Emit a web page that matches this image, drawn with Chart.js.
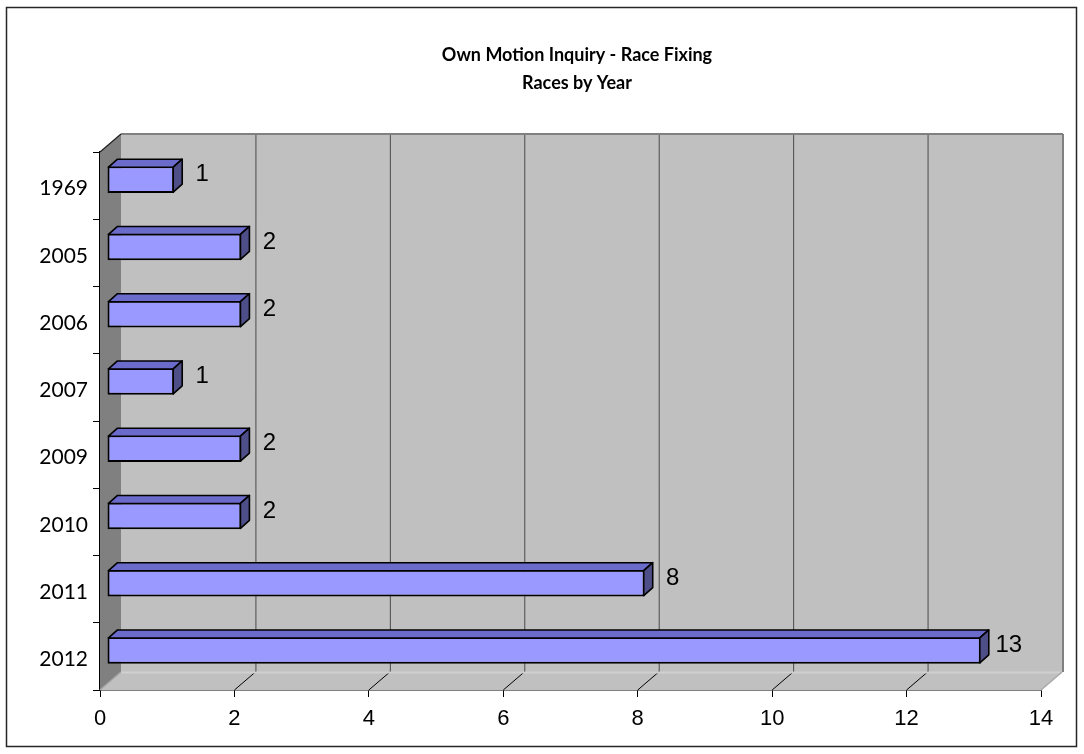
<!DOCTYPE html>
<html>
<head>
<meta charset="utf-8">
<script src="https://cdn.jsdelivr.net/npm/chart.js@4/dist/chart.umd.min.js"></script>
<style>
  html, body { margin: 0; padding: 0; background: #ffffff; }
  #wrap { width: 1084px; height: 754px; position: relative; }
</style>
</head>
<body>
<div id="wrap"><canvas id="c" width="1084" height="754"></canvas></div>
<script>
// Races flagged by the inquiry, grouped by year
const years = ['1969', '2005', '2006', '2007', '2009', '2010', '2011', '2012'];
const races = [1, 2, 2, 1, 2, 2, 8, 13];
const xMin = 0;
const xMax = 14;
const xStep = 2;
const titleLines = ['Own Motion Inquiry - Race Fixing', 'Races by Year'];

// Pseudo-3D geometry (pixels)
const WALL_DX = 21, WALL_DY = 18;   // depth of the plot box
const BAR_OX = 7, BAR_OY = -6;      // bar front face pushed back into the box
const BAR_DX = 9, BAR_DY = 8;       // bar thickness in depth

const BAR_FRONT = '#9999FF';
const BAR_TOP = '#6B6BCC';
const BAR_SIDE = '#4E4E88';

function poly(ctx, pts, fill, stroke, lw) {
  ctx.beginPath();
  ctx.moveTo(pts[0][0], pts[0][1]);
  for (let i = 1; i < pts.length; i++) ctx.lineTo(pts[i][0], pts[i][1]);
  ctx.closePath();
  if (fill) { ctx.fillStyle = fill; ctx.fill(); }
  if (stroke) { ctx.strokeStyle = stroke; ctx.lineWidth = lw || 1; ctx.stroke(); }
}

function line(ctx, x1, y1, x2, y2, color, lw) {
  ctx.beginPath();
  ctx.moveTo(x1, y1);
  ctx.lineTo(x2, y2);
  ctx.strokeStyle = color;
  ctx.lineWidth = lw || 1;
  ctx.stroke();
}

const scene3d = {
  id: 'scene3d',
  beforeDraw(chart) {
    const ctx = chart.ctx;
    ctx.save();
    ctx.fillStyle = '#ffffff';
    ctx.fillRect(0, 0, chart.width, chart.height);
    ctx.strokeStyle = '#262626';
    ctx.lineWidth = 1.5;
    ctx.strokeRect(6.5, 7.5, 1070, 739);
    ctx.fillStyle = '#000000';
    ctx.font = 'bold 18px Lato';
    ctx.textAlign = 'center';
    ctx.textBaseline = 'middle';
    ctx.fillText(titleLines[0], 577, 55);
    ctx.fillText(titleLines[1], 577, 83);
    ctx.restore();
  },
  beforeDatasetsDraw(chart) {
    const ctx = chart.ctx;
    const xs = chart.scales.x, ys = chart.scales.y;
    const L = xs.getPixelForValue(xMin), R = xs.getPixelForValue(xMax);
    const T = ys.top, B = ys.bottom;
    ctx.save();
    // back wall
    poly(ctx, [[L + WALL_DX, T - WALL_DY], [R + WALL_DX, T - WALL_DY],
               [R + WALL_DX, B - WALL_DY], [L + WALL_DX, B - WALL_DY]], '#C0C0C0');
    // floor
    poly(ctx, [[L, B], [R, B], [R + WALL_DX, B - WALL_DY], [L + WALL_DX, B - WALL_DY]], '#C0C0C0');
    // left wall
    poly(ctx, [[L, T], [L + WALL_DX, T - WALL_DY], [L + WALL_DX, B - WALL_DY], [L, B]], '#808080');
    // grid lines on the back wall and across the floor
    for (let v = xMin + xStep; v < xMax; v += xStep) {
      const px = xs.getPixelForValue(v);
      line(ctx, px + WALL_DX + 0.5, T - WALL_DY, px + WALL_DX + 0.5, B - WALL_DY, '#4A4A4A', 1);
      line(ctx, px + WALL_DX, B - WALL_DY, px, B, '#000000', 1);
    }
    // wall edges
    line(ctx, L + WALL_DX, B - WALL_DY + 0.5, R + WALL_DX, B - WALL_DY + 0.5, '#D0D0D0', 2);
    line(ctx, L, B, L + WALL_DX, B - WALL_DY, '#A8A8A8', 1.5);
    line(ctx, R, B, R + WALL_DX, B - WALL_DY, '#A8A8A8', 1.5);
    line(ctx, L + WALL_DX, T - WALL_DY, R + WALL_DX + 1, T - WALL_DY, '#808080', 2);
    line(ctx, R + WALL_DX + 1, T - WALL_DY, R + WALL_DX + 1, B - WALL_DY, '#808080', 2);
    line(ctx, L, T, L + WALL_DX, T - WALL_DY, '#202020', 1.2);
    ctx.restore();
  },
  beforeDatasetDraw(chart) {
    chart.ctx.save();
    chart.ctx.translate(BAR_OX, BAR_OY);
  },
  afterDatasetDraw(chart) {
    chart.ctx.restore();
  },
  afterDatasetsDraw(chart) {
    const ctx = chart.ctx;
    const meta = chart.getDatasetMeta(0);
    const values = chart.data.datasets[0].data;
    ctx.save();
    ctx.lineJoin = 'round';
    meta.data.forEach((bar, i) => {
      const p = bar.getProps(['x', 'y', 'base', 'height'], true);
      const left = p.base + BAR_OX, right = p.x + BAR_OX;
      const top = p.y - p.height / 2 + BAR_OY, bottom = p.y + p.height / 2 + BAR_OY;
      poly(ctx, [[left + 1, top + 1], [left + 1 + BAR_DX, top + 1 - BAR_DY],
                 [right - 1 + BAR_DX, top + 1 - BAR_DY], [right - 1, top + 1]], BAR_TOP, '#000000', 1.6);
      poly(ctx, [[right - 1, top + 1], [right - 1 + BAR_DX, top + 1 - BAR_DY],
                 [right - 1 + BAR_DX, bottom - 1 - BAR_DY], [right - 1, bottom - 1]], BAR_SIDE, '#000000', 1.6);
      // value label beside the bar end
      ctx.fillStyle = '#000000';
      ctx.font = '24px "Liberation Sans"';
      ctx.textAlign = 'center';
      ctx.textBaseline = 'middle';
      ctx.fillText(String(values[i]), right + 28, p.y - 11);
    });
    ctx.restore();
  }
};

new Chart(document.getElementById('c'), {
  type: 'bar',
  data: {
    labels: years,
    datasets: [{
      data: races,
      backgroundColor: BAR_FRONT,
      borderColor: '#000000',
      borderWidth: 2,
      borderSkipped: false,
      categoryPercentage: 1,
      barPercentage: 0.4
    }]
  },
  options: {
    indexAxis: 'y',
    responsive: false,
    devicePixelRatio: 1,
    animation: false,
    layout: { padding: { top: 152, right: 43, left: 0, bottom: 0 } },
    plugins: {
      legend: { display: false },
      tooltip: { enabled: false },
      title: { display: false }
    },
    scales: {
      y: {
        type: 'category',
        grid: { offset: true, drawOnChartArea: false, tickLength: 7, color: '#000000', lineWidth: 1 },
        border: { display: true, color: '#000000', width: 1.5 },
        ticks: { color: '#000000', font: { family: 'Lato', size: 21 }, padding: 5, labelOffset: 3 },
        afterFit(s) { s.width = 100; }
      },
      x: {
        type: 'linear',
        min: xMin,
        max: xMax,
        grid: { drawOnChartArea: false, tickLength: 7, color: '#000000', lineWidth: 1 },
        border: { display: true, color: '#000000', width: 1.5 },
        ticks: { stepSize: xStep, color: '#000000', font: { family: 'Liberation Sans', size: 22 }, padding: 9 },
        afterFit(s) { s.height = 64; }
      }
    }
  },
  plugins: [scene3d]
});
</script>
</body>
</html>
